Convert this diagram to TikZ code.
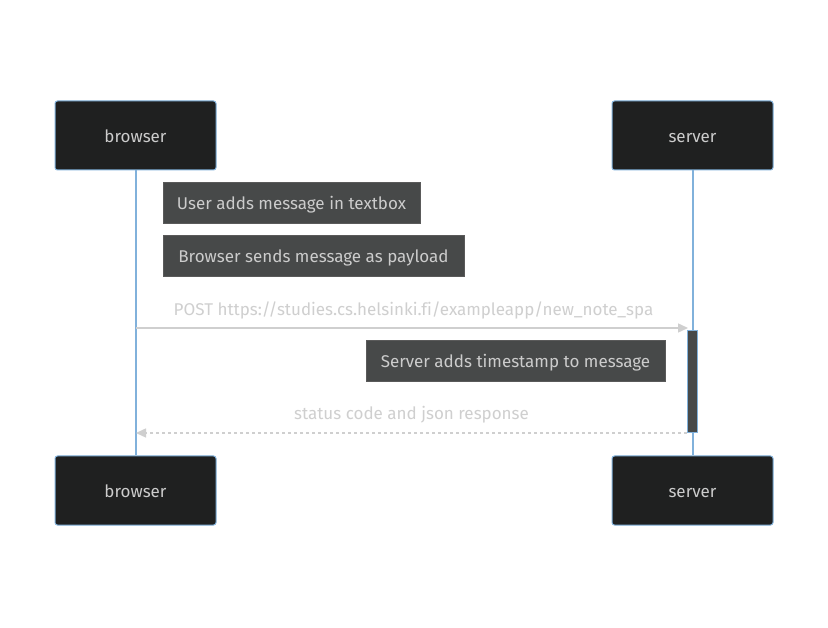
\documentclass[tikz,border=0pt]{standalone}
\usepackage{fontspec}
\setmainfont[Ligatures={NoCommon}]{Fira Sans}
\usetikzlibrary{arrows.meta}
\definecolor{actfill}{HTML}{1F2020}
\definecolor{actline}{HTML}{81B1DB}
\definecolor{notefill}{HTML}{474949}
\definecolor{noteline}{HTML}{5A5A5A}
\definecolor{txt}{HTML}{CCCCCC}
\definecolor{msg}{HTML}{CFCFCF}
\tikzset{
  x=1pt,y=-1pt,
  fnt/.style={font=\fontsize{17}{20}\selectfont,text height=14.5pt,text depth=0pt},
  actor/.style={draw=actline,fill=actfill,rounded corners=2.5pt,line width=1pt,minimum width=161pt,minimum height=69pt,inner sep=0pt,text=txt,fnt},
  notebox/.style={draw=noteline,fill=notefill,line width=0.8pt,minimum height=41pt,inner sep=0pt,text=txt,fnt},
  life/.style={draw=actline,line width=2pt},
  msgline/.style={draw=msg,line width=1.4pt},
  msgtxt/.style={text=msg,font=\fontsize{17}{20}\selectfont,inner sep=0pt,anchor=base},
  tip/.style={-{Triangle[length=10pt,width=9pt]}}
}
\begin{document}
\begin{tikzpicture}
\fill[white] (0,0) rectangle (828,628);
\useasboundingbox (0,0) rectangle (828,628);
% actors
\node[actor] (bt) at (135.5,135.5) {browser};
\node[actor] (st) at (692.5,135.5) {server};
\node[actor] (bb) at (135.5,490.5) {browser};
\node[actor] (sb) at (692.5,490.5) {server};
% lifelines
\draw[life] (bt.south) -- (bb.north);
\draw[life] (st.south) -- (sb.north);
% activation
\node[draw=actline,fill=notefill,line width=1pt,minimum width=10pt,minimum height=102pt,inner sep=0pt] (act) at (692.5,382) {};
% notes
\node[notebox,minimum width=257pt] (n1) at (291.5,202.5) {User adds message in textbox};
\node[notebox,minimum width=301pt] (n2) at (313.5,255.5) {Browser sends message as payload};
\node[notebox,minimum width=299pt] (n3) at (515.5,360.5) {Server adds timestamp to message};
% messages
\coordinate (p1) at (136,328);
\coordinate (p2) at (688,328);
\draw[msgline,tip] (p1) -- (p2);
\node[msgtxt] (m1) at (413.5,315.5) {POST https://studies.cs.helsinki.fi/exampleapp/new\_note\_spa};
\coordinate (r1) at (687,433);
\coordinate (r2) at (136,433);
\draw[msgline,tip,dash pattern=on 3pt off 3pt] (r1) -- (r2);
\node[msgtxt] (m2) at (411.5,420) {status code and json response};
\end{tikzpicture}
\end{document}
